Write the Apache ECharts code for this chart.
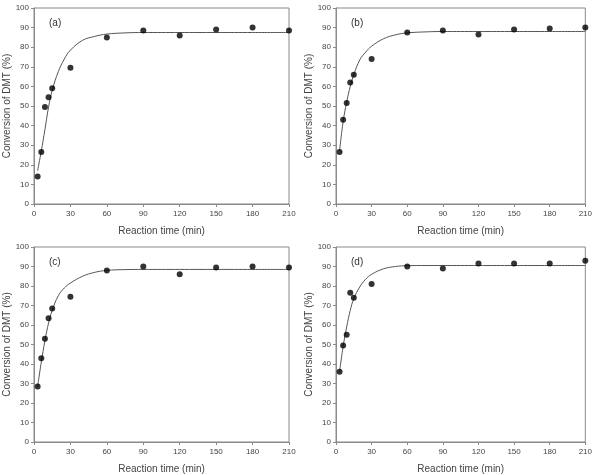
<!DOCTYPE html>
<html>
<head>
<meta charset="utf-8">
<script src="https://cdn.jsdelivr.net/npm/echarts@6/dist/echarts.min.js"></script>
<style>
  html, body { margin: 0; padding: 0; background: #fff; }
  #main { width: 595px; height: 475px; }
</style>
</head>
<body>
<div id="main"></div>
<script>
var myChart = echarts.init(document.getElementById('main'));

// sampling times (min)
var times = [3, 6, 9, 12, 15, 30, 60, 90, 120, 150, 180, 210];
// measured conversion (%) per panel
var dataA = [14, 26.5, 49.5, 54.5, 59, 69.5, 85, 88.5, 86, 89, 90, 88.5];
var dataB = [26.5, 43, 51.5, 62, 66, 74, 87.5, 88.5, 86.5, 89, 89.5, 90];
var dataC = [28.5, 43, 53, 63.5, 68.5, 74.5, 88, 90, 86, 89.5, 90, 89.5];
var dataD = [36, 49.5, 55, 76.5, 74, 81, 90, 89, 91.5, 91.5, 91.5, 93];

// fitted curves
var curveT = [3, 6, 9, 12, 15, 20, 25, 30, 40, 50, 60, 75, 90, 120, 150, 180, 210];
var curveA = [17, 27, 38, 49.5, 58, 67.5, 74, 78.5, 83.5, 85.5, 86.7, 87.3, 87.5, 87.5, 87.5, 87.5, 87.5];
var curveB = [27, 42, 52, 60, 66, 73.5, 77.5, 80.5, 84.3, 86.3, 87.3, 87.8, 88, 88, 88, 88, 88];
var curveC = [28.5, 41, 52, 61, 67.5, 75, 79, 81.5, 85, 87, 88, 88.4, 88.5, 88.5, 88.5, 88.5, 88.5];
var curveD = [36, 49, 59, 67.5, 73.5, 79.5, 83.5, 86, 88.8, 90, 90.4, 90.5, 90.5, 90.5, 90.5, 90.5, 90.5];

var panelLabels = ['(a)', '(b)', '(c)', '(d)'];
var allData = [dataA, dataB, dataC, dataD];
var allCurves = [curveA, curveB, curveC, curveD];

function pairs(xs, ys) {
    return xs.map(function (x, i) { return [x, ys[i]]; });
}

var grids = [
    { left: 34, top: 8, width: 255, height: 196 },
    { left: 336, top: 8, width: 254, height: 196 },
    { left: 34, top: 247, width: 255, height: 195 },
    { left: 336, top: 247, width: 254, height: 195 }
];

var xAxes = [], yAxes = [], series = [], graphics = [];
grids.forEach(function (g, i) {
    g.show = true;
    g.borderColor = '#8a8a8a';
    g.borderWidth = 1;
    g.containLabel = false;

    xAxes.push({
        gridIndex: i,
        type: 'value',
        min: 0, max: 210, interval: 30,
        name: 'Reaction time (min)',
        nameLocation: 'middle',
        nameGap: 22,
        nameTextStyle: { fontFamily: 'Liberation Sans', fontSize: 10, color: '#444' },
        axisLine: { show: true, lineStyle: { color: '#8a8a8a' } },
        axisTick: { show: true, length: 3, lineStyle: { color: '#8a8a8a' } },
        axisLabel: { fontFamily: 'Liberation Sans', fontSize: 8, color: '#444', margin: 6 },
        splitLine: { show: false }
    });
    yAxes.push({
        gridIndex: i,
        type: 'value',
        min: 0, max: 100, interval: 10,
        name: 'Conversion of DMT (%)',
        nameLocation: 'middle',
        nameGap: 22,
        nameTextStyle: { fontFamily: 'Liberation Sans', fontSize: 10, color: '#444' },
        axisLine: { show: true, lineStyle: { color: '#8a8a8a' } },
        axisTick: { show: true, length: 3, lineStyle: { color: '#8a8a8a' } },
        axisLabel: { fontFamily: 'Liberation Sans', fontSize: 8, color: '#444', margin: 5 },
        splitLine: { show: false }
    });
    series.push({
        type: 'line',
        xAxisIndex: i, yAxisIndex: i,
        data: pairs(curveT, allCurves[i]),
        smooth: 0.4,
        showSymbol: false,
        lineStyle: { color: '#555', width: 1 },
        silent: true,
        z: 2
    });
    series.push({
        type: 'scatter',
        xAxisIndex: i, yAxisIndex: i,
        data: pairs(times, allData[i]),
        symbol: 'circle',
        symbolSize: 6,
        itemStyle: { color: '#000' },
        z: 3
    });
    graphics.push({
        type: 'text',
        left: g.left + 15,
        top: g.top + 10,
        style: { text: panelLabels[i], font: '10px "Liberation Sans"', fill: '#333' }
    });
});

var option = {
    animation: false,
    grid: grids,
    xAxis: xAxes,
    yAxis: yAxes,
    series: series,
    graphic: graphics
};
myChart.setOption(option);
</script>
</body>
</html>
